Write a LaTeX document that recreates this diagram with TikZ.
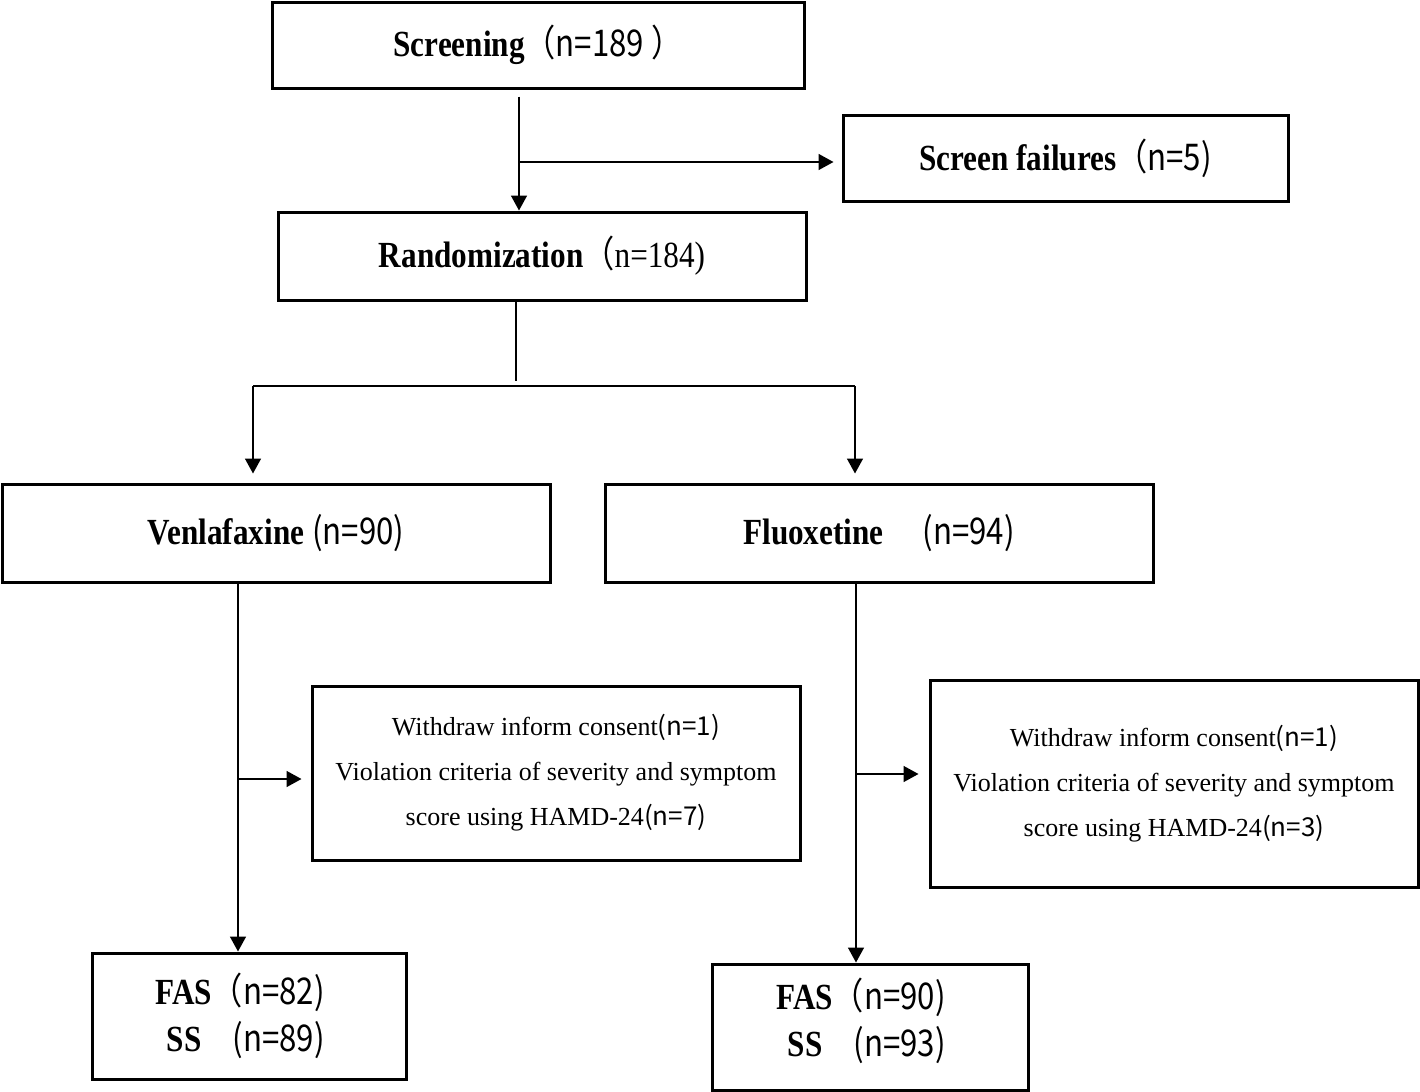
\documentclass[tikz,border=0pt]{standalone}
\usepackage{fontspec}
\usepackage{graphicx}
\setmainfont{Liberation Serif}
\newfontfamily\cjk{Noto Sans CJK SC}
\newcommand\tallt[1]{\scalebox{1}[1.18]{#1}}
\usetikzlibrary{arrows.meta,calc}
\begin{document}
\begin{tikzpicture}[x=0.5pt,y=-0.5pt,
  box/.style={draw,line width=1.5pt,inner sep=0pt,anchor=center,align=center,
    font=\fontsize{15.6}{18}\selectfont},
  wbox/.style={draw,line width=1.5pt,inner sep=0pt,anchor=center,align=center,
    font=\fontsize{13}{22.5}\selectfont},
  conn/.style={line width=0.8pt},
  arr/.style={conn,-{Triangle[length=7.5pt,width=8pt]}}]
\useasboundingbox (0,0) rectangle (1420,1092);
% boxes
\node[box,minimum width=266pt,minimum height=43pt] (scr) at (538,45)
  {\tallt{\textbf{Screening}{\cjk（n=189 ）}}};
\node[box,minimum width=222.5pt,minimum height=43pt] (sf) at (1065.5,158)
  {\tallt{\textbf{Screen failures}{\cjk（n=5)}}};
\node[box,minimum width=264pt,minimum height=44pt] (rnd) at (542,256)
  {\tallt{\textbf{Randomization}{\cjk（}n=184)}};
\node[box,minimum width=274pt,minimum height=49pt] (ven) at (276,533)
  {\tallt{\textbf{Venlafaxine} {\cjk(n=90)}}};
\node[box,minimum width=274pt,minimum height=49pt] (flu) at (879,533)
  {\tallt{\textbf{Fluoxetine}\quad\ {\cjk(n=94)}}};
\node[wbox,minimum width=244pt,minimum height=87pt] (wdL) at (556,773)
  {Withdraw inform consent{\cjk(n=1)}\\Violation criteria of severity and symptom\\score using HAMD-24{\cjk(n=7)}};
\node[wbox,minimum width=244pt,minimum height=103.5pt] (wdR) at (1174,783.5)
  {Withdraw inform consent{\cjk(n=1)}\\Violation criteria of severity and symptom\\score using HAMD-24{\cjk(n=3)}};
\node[draw,line width=1.5pt,minimum width=157pt,minimum height=63pt] (fasL) at (249,1016) {};
\node[align=right,inner sep=0pt,font=\fontsize{15.6}{23.5}\selectfont] (tL) at (240,1016)
  {\tallt{\textbf{FAS}{\cjk（n=82)}}\\\tallt{\textbf{SS}\quad{\cjk(n=89)}}};
\node[draw,line width=1.5pt,minimum width=158pt,minimum height=63pt] (fasR) at (870,1027) {};
\node[align=right,inner sep=0pt,font=\fontsize{15.6}{23.5}\selectfont] (tR) at (861,1021)
  {\tallt{\textbf{FAS}{\cjk（n=90)}}\\\tallt{\textbf{SS}\quad{\cjk(n=93)}}};
% connectors
\coordinate (c1) at (519,162);
\draw[conn] ($(scr.south -| c1)+(0,7)$) -- (c1);
\draw[arr] (c1) -- (rnd.north -| c1);
\draw[arr,shorten >=4pt] (c1) -- (sf.west |- c1);
\coordinate (sp) at (516,381);
\draw[conn] (rnd.south -| sp) -- (sp);
\coordinate (vl) at (253,386);
\coordinate (fl) at (855,386);
\draw[conn] (vl) -- (fl);
\draw[arr,shorten >=4.5pt] (vl) -- (ven.north -| vl);
\draw[arr,shorten >=4.5pt] (fl) -- (flu.north -| fl);
\coordinate (vx) at (238,779);
\draw[arr] (ven.south -| vx) -- (fasL.north -| vx);
\draw[arr,shorten >=4.5pt] (vx) -- (wdL.west |- vx);
\coordinate (fx) at (856,774);
\draw[arr] (flu.south -| fx) -- (fasR.north -| fx);
\draw[arr,shorten >=5pt] (fx) -- (wdR.west |- fx);
\end{tikzpicture}
\end{document}
